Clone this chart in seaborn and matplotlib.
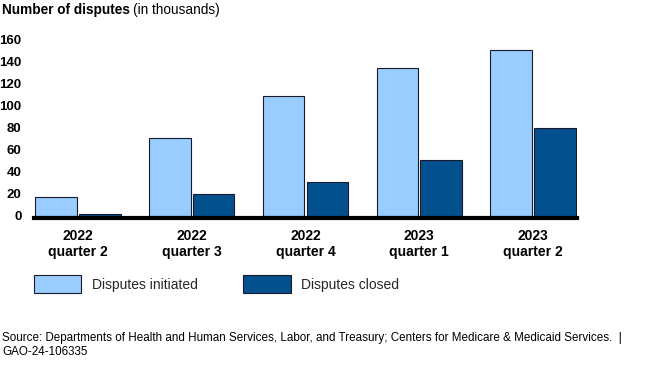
import matplotlib
matplotlib.use("Agg")
import matplotlib.pyplot as plt
import seaborn as sns
import pandas as pd

quarters = ["2022\nquarter 2", "2022\nquarter 3", "2022\nquarter 4", "2023\nquarter 1", "2023\nquarter 2"]
initiated = [17, 71, 109, 135, 151]
closed = [2, 20, 31, 51, 80]
series_names = ["Disputes initiated", "Disputes closed"]
yticks = [0, 20, 40, 60, 80, 100, 120, 140, 160]

df = pd.DataFrame({
    "quarter": quarters * 2,
    "value": initiated + closed,
    "series": [series_names[0]] * len(quarters) + [series_names[1]] * len(quarters),
})

sns.set_theme(style="white")
plt.rcParams["font.family"] = ["Liberation Sans", "DejaVu Sans"]

fig = plt.figure(figsize=(6.5, 3.65), dpi=100)
W, H = 650, 365
ax = fig.add_axes([34 / W, (365 - 216) / H, (577 - 34) / W, 176 / H])

sns.barplot(data=df, x="quarter", y="value", hue="series", order=quarters,
            hue_order=series_names, palette=["#99CCFF", "#03508F"],
            width=0.77, gap=0.05, edgecolor="#1a1a2a", linewidth=0.8,
            saturation=1, ax=ax, legend=True)

handles, labels = ax.get_legend_handles_labels()
ax.get_legend().remove()

ax.set_xlim(-0.385, 4.385)
ax.set_ylim(0, 160)
ax.set_yticks(yticks)
ax.set_yticklabels([str(t) for t in yticks])
ax.set_xticks(range(len(quarters)))
ax.set_xticklabels(quarters, linespacing=1.15)
ax.tick_params(axis="y", length=0, pad=9, colors="black", labelsize=9.5)
ax.tick_params(axis="x", length=0, pad=8, colors="black", labelsize=10)
ax.set_xlabel("")
ax.set_ylabel("")
for s in ["top", "right", "left"]:
    ax.spines[s].set_visible(False)
ax.spines["bottom"].set_color("black")
ax.spines["bottom"].set_linewidth(3)
ax.spines["bottom"].set_position(("outward", 1.3))
ax.grid(False)

fig.legend(handles, labels, loc="upper left", bbox_to_anchor=(34 / W, 1 - 275 / H),
           ncol=2, frameon=False, fontsize=10, handlelength=3.4, handleheight=1.65,
           handletextpad=0.75, columnspacing=3.3, borderpad=0, borderaxespad=0)

# Title with bold and regular parts
t1 = fig.text(2 / W, 1 - 10 / H, "Number of disputes", fontsize=9.8, fontweight="bold",
              va="center", ha="left", color="black")
fig.canvas.draw()
bb = t1.get_window_extent()
fig.text(bb.x1 / W + 3 / W, 1 - 10 / H, "(in thousands)", fontsize=9.8,
         va="center", ha="left", color="black")

fig.text(2 / W, 1 - 338 / H,
         "Source: Departments of Health and Human Services, Labor, and Treasury; Centers for Medicare & Medicaid Services.  |",
         fontsize=8.4, va="center", ha="left", color="black")
fig.text(2 / W, 1 - 352 / H, "GAO-24-106335", fontsize=8.4, va="center", ha="left", color="black")

fig.canvas.draw()
for lab in ax.get_xticklabels() + ax.get_yticklabels():
    lab.set_fontweight("bold")

fig.savefig("out.png", dpi=100)
